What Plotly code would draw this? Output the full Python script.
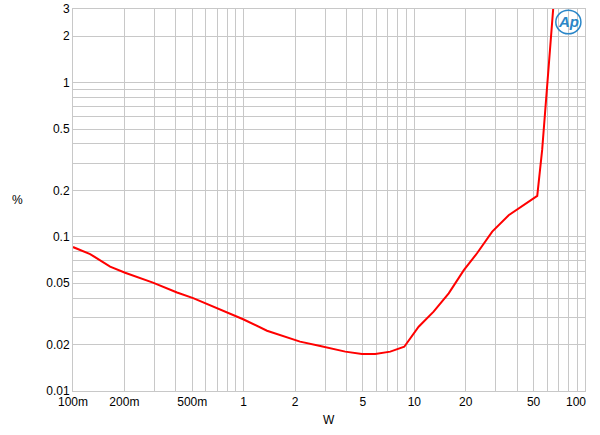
import plotly.graph_objects as go

# Data: output power (W) vs THD+N (%)
power_w = [0.1, 0.126, 0.165, 0.202, 0.294, 0.407, 0.506, 0.611, 0.993, 1.37, 2.14,
           2.81, 3.94, 4.93, 5.90, 7.23, 8.73, 10.6, 12.97, 15.9, 17.8, 19.5, 23.3,
           28.6, 35.7, 43.8, 52.5, 56.1, 65.8]
thd_pct = [0.0858, 0.0773, 0.064, 0.0585, 0.0504, 0.0435, 0.040, 0.0367, 0.0292, 0.0246, 0.0209,
           0.0196, 0.0180, 0.01737, 0.01737, 0.0180, 0.01936, 0.0261, 0.0327, 0.0430, 0.0525, 0.0608, 0.0782,
           0.108, 0.138, 0.161, 0.184, 0.366, 3.5]

# Axis grid/tick values
x_grid = [0.1, 0.2, 0.3, 0.4, 0.5, 0.6, 0.7, 0.8, 0.9,
          1, 2, 3, 4, 5, 6, 7, 8, 9,
          10, 20, 30, 40, 50, 60, 70, 80, 90, 100]
x_labels = {0.1: "100m", 0.2: "200m", 0.5: "500m", 1: "1", 2: "2", 5: "5",
            10: "10", 20: "20", 50: "50", 100: "100"}
y_grid = [0.01, 0.02, 0.03, 0.04, 0.05, 0.06, 0.07, 0.08, 0.09,
          0.1, 0.2, 0.3, 0.4, 0.5, 0.6, 0.7, 0.8, 0.9,
          1, 2, 3]
y_labels = {0.01: "0.01", 0.02: "0.02", 0.05: "0.05", 0.1: "0.1", 0.2: "0.2",
            0.5: "0.5", 1: "1", 2: "2", 3: "3"}

FONT = "Liberation Sans, Arial, sans-serif"
GRID = "#c8c8c8"

fig = go.Figure()
fig.add_trace(go.Scatter(x=power_w, y=thd_pct, mode="lines",
                         line=dict(color="#ff0000", width=2), showlegend=False,
                         hoverinfo="skip"))

x_text = [x_labels.get(v, "") if v != 100 else "" for v in x_grid]
y_text = [y_labels.get(v, "") for v in y_grid]

fig.update_xaxes(type="log", range=[-1, 2], tickmode="array", tickvals=x_grid,
                 ticktext=x_text, showgrid=True, gridcolor=GRID, gridwidth=1,
                 showline=True, linecolor=GRID, linewidth=1, mirror=True, automargin=False,
                 ticks="", zeroline=False, tickfont=dict(family=FONT, size=12, color="#000"))
fig.update_yaxes(type="log", range=[-2, 0.47712], tickmode="array", tickvals=y_grid,
                 ticktext=y_text, showgrid=True, gridcolor=GRID, gridwidth=1,
                 showline=True, linecolor=GRID, linewidth=1, mirror=True, automargin=False,
                 ticks="", zeroline=False, tickfont=dict(family=FONT, size=12, color="#000"))

annotations = [
    dict(x=2, y=-2, xref="x", yref="y", text=x_labels[100], showarrow=False,
         xanchor="right", yanchor="top", yshift=-2, xshift=3,
         font=dict(family=FONT, size=12, color="#000")),
    dict(x=0.5, y=-0.076, xref="paper", yref="paper", text="W", showarrow=False,
         xanchor="center", yanchor="middle", font=dict(family=FONT, size=12, color="#000")),
    dict(x=-0.109, y=0.5, xref="paper", yref="paper", text="%", showarrow=False,
         xanchor="center", yanchor="middle", font=dict(family=FONT, size=12, color="#000")),
    dict(x=0.967, y=0.966, xref="paper", yref="paper", text="<i><b>Ap</b></i>", showarrow=False,
         xanchor="center", yanchor="middle", font=dict(family=FONT, size=15, color="#2a86c8")),
]

shapes = [
    dict(type="circle", xref="paper", yref="paper", x0=0.943, x1=0.992, y0=0.935, y1=0.997,
         line=dict(color="#2a86c8", width=1.5)),
]

fig.update_layout(width=600, height=435, margin=dict(l=73, r=15, t=9, b=44),
                  paper_bgcolor="white", plot_bgcolor="white",
                  annotations=annotations, shapes=shapes,
                  font=dict(family=FONT, size=12, color="#000"))

fig.write_html("out.html", config={"displayModeBar": False},
               post_script="document.body.style.margin='0';document.body.style.overflow='hidden';")
